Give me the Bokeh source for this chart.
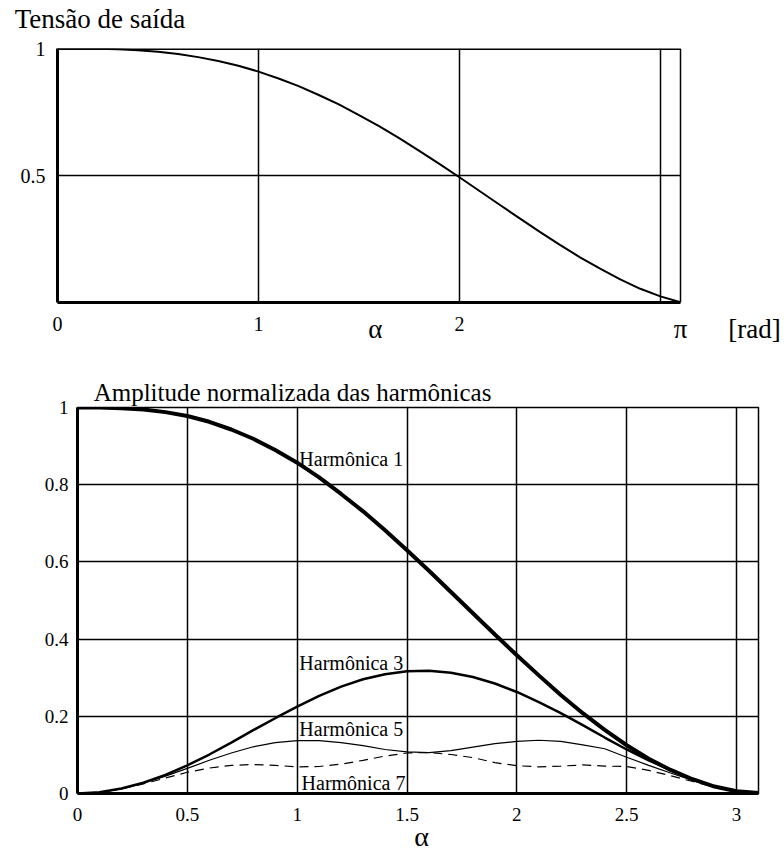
from bokeh.plotting import figure
from bokeh.models import FixedTicker, Label, Range1d, LinearAxis
from bokeh.layouts import column
from bokeh.embed import file_html
from bokeh.resources import INLINE

FONT = "Liberation Serif"

# ---------------- data ----------------
alpha = [0.0, 0.1, 0.2, 0.3, 0.4, 0.5, 0.6, 0.7, 0.8, 0.9,
         1.0, 1.1, 1.2, 1.3, 1.4, 1.5, 1.6, 1.7, 1.8, 1.9,
         2.0, 2.1, 2.2, 2.3, 2.4, 2.5, 2.6, 2.7, 2.8, 2.9,
         3.0, 3.1]

tensao = [1.000, 1.000, 0.999, 0.997, 0.993, 0.987, 0.978, 0.966, 0.951, 0.932,
          0.909, 0.882, 0.852, 0.817, 0.780, 0.738, 0.694, 0.647, 0.597, 0.546,
          0.493, 0.439, 0.385, 0.331, 0.278, 0.227, 0.178, 0.133, 0.091, 0.054,
          0.024, 0.001]

harm1 = [1.000, 1.000, 0.998, 0.995, 0.988, 0.978, 0.963, 0.943, 0.919, 0.890,
         0.857, 0.819, 0.776, 0.731, 0.682, 0.630, 0.577, 0.522, 0.467, 0.412,
         0.358, 0.306, 0.255, 0.208, 0.165, 0.125, 0.090, 0.061, 0.037, 0.018,
         0.006, 0.001]

harm3 = [0.000, 0.003, 0.013, 0.028, 0.048, 0.073, 0.101, 0.132, 0.164, 0.195,
         0.225, 0.253, 0.277, 0.296, 0.309, 0.317, 0.318, 0.313, 0.302, 0.285,
         0.263, 0.237, 0.208, 0.177, 0.145, 0.114, 0.086, 0.061, 0.036, 0.018,
         0.006, 0.001]

harm5 = [0.000, 0.003, 0.012, 0.027, 0.045, 0.065, 0.086, 0.105, 0.121, 0.132,
         0.137, 0.137, 0.132, 0.124, 0.114, 0.108, 0.106, 0.111, 0.120, 0.129,
         0.135, 0.138, 0.135, 0.126, 0.116, 0.094, 0.073, 0.053, 0.034, 0.018,
         0.006, 0.001]

harm7 = [0.000, 0.003, 0.012, 0.025, 0.040, 0.055, 0.066, 0.073, 0.075, 0.073,
         0.069, 0.070, 0.076, 0.086, 0.097, 0.105, 0.106, 0.101, 0.093, 0.080,
         0.072, 0.069, 0.071, 0.074, 0.071, 0.070, 0.060, 0.046, 0.031, 0.017,
         0.006, 0.001]

# top chart ticks / texts
top_xticks = [0, 1, 2]
top_xtick_labels = ["0", "1", "2"]
top_xgrid = [1, 2, 3]
top_yticks = [0.5, 1]
top_ytick_labels = ["0.5", "1"]
top_text_pos = [1.582, 3.1, 3.468]
top_text_labels = ["α", "π", "[rad]"]
top_title_pos = [0.211]
top_title = ["Tensão de saída"]

# bottom chart ticks / texts
bot_xticks = [0, 0.5, 1, 1.5, 2, 2.5, 3]
bot_xtick_labels = ["0", "0.5", "1", "1.5", "2", "2.5", "3"]
bot_yticks = [0, 0.2, 0.4, 0.6, 0.8, 1]
bot_ytick_labels = ["0", "0.2", "0.4", "0.6", "0.8", "1"]
bot_text_pos = [1.566]
bot_text_labels = ["α"]
bot_title_pos = [0.979]
bot_title = ["Amplitude normalizada das harmônicas"]

harm_names = ["Harmônica 1", "Harmônica 3", "Harmônica 5", "Harmônica 7"]
harm_label_x = [1.01, 1.01, 1.01, 1.02]
harm_label_y = [0.866, 0.338, 0.168, 0.026]


def base_axis(ax, ticks, labels, size, standoff, line=True, line_width=3):
    ax.ticker = FixedTicker(ticks=ticks)
    ax.major_label_overrides = {t: s for t, s in zip(ticks, labels)}
    ax.major_label_text_font = FONT
    ax.major_label_text_font_size = size
    ax.major_label_text_color = "black"
    ax.major_label_standoff = standoff
    ax.major_tick_in = 0
    ax.major_tick_out = 0
    ax.major_tick_line_color = None
    ax.minor_tick_line_color = None
    if line:
        ax.axis_line_color = "black"
        ax.axis_line_width = line_width
    else:
        ax.axis_line_color = None


def no_align(p):
    try:
        p.frame_align = False
    except Exception:
        pass


# ---------------- top chart ----------------
p1 = figure(width=782, height=347, output_backend="svg", toolbar_location=None,
            x_range=Range1d(0, 3.6075), y_range=Range1d(0, 1),
            min_border_left=57, min_border_right=0,
            min_border_top=48, min_border_bottom=45)
no_align(p1)
p1.outline_line_color = None
p1.background_fill_color = "white"
p1.border_fill_color = "white"

ax_x1 = p1.xaxis[0]
base_axis(ax_x1, top_xticks, top_xtick_labels, "20px", 14)
ax_x1.bounds = (alpha[0], alpha[-1])
ax_y1 = p1.yaxis[0]
base_axis(ax_y1, top_yticks, top_ytick_labels, "20px", 12)

ax_txt1 = LinearAxis()
base_axis(ax_txt1, top_text_pos, top_text_labels, "27px", -20, line=False)
p1.add_layout(ax_txt1, "below")

ax_title1 = LinearAxis()
base_axis(ax_title1, top_title_pos, top_title, "27px", 15, line=False)
p1.add_layout(ax_title1, "above")

p1.xgrid[0].ticker = FixedTicker(ticks=top_xgrid + [alpha[-1]])
p1.xgrid[0].grid_line_color = "black"
p1.xgrid[0].grid_line_width = 1.5
p1.xgrid[0].grid_line_alpha = 1.0
p1.ygrid[0].visible = False

# horizontal grid lines / top border limited to the data box
p1.segment(x0=[alpha[0]] * len(top_yticks), x1=[alpha[-1]] * len(top_yticks),
           y0=top_yticks, y1=top_yticks, line_color="black",
           line_width=[1.5, 3.0])

p1.line(alpha, tensao, line_color="black", line_width=2)

# ---------------- bottom chart ----------------
p2 = figure(width=782, height=509, output_backend="svg", toolbar_location=None,
            x_range=Range1d(0, 3.1), y_range=Range1d(0, 1),
            min_border_left=77, min_border_right=24,
            min_border_top=60, min_border_bottom=63)
no_align(p2)
p2.outline_line_color = "black"
p2.outline_line_width = 1.5
p2.background_fill_color = "white"
p2.border_fill_color = "white"

ax_x2 = p2.xaxis[0]
base_axis(ax_x2, bot_xticks, bot_xtick_labels, "19px", 14)
ax_y2 = p2.yaxis[0]
base_axis(ax_y2, bot_yticks, bot_ytick_labels, "19px", 9)

ax_txt2 = LinearAxis()
base_axis(ax_txt2, bot_text_pos, bot_text_labels, "28px", -3, line=False)
p2.add_layout(ax_txt2, "below")

ax_title2 = LinearAxis()
base_axis(ax_title2, bot_title_pos, bot_title, "25px", 2, line=False)
p2.add_layout(ax_title2, "above")

for g in (p2.xgrid[0], p2.ygrid[0]):
    g.grid_line_color = "black"
    g.grid_line_width = 1.5
    g.grid_line_alpha = 1.0

p2.line(alpha, harm1, line_color="black", line_width=4)
p2.line(alpha, harm3, line_color="black", line_width=2.5)
p2.line(alpha, harm5, line_color="black", line_width=1.2)
p2.line(alpha, harm7, line_color="black", line_width=1.2, line_dash="9 6")

for name, lx, ly in zip(harm_names, harm_label_x, harm_label_y):
    p2.add_layout(Label(x=lx, y=ly, text=name, text_font=FONT,
                        text_font_size="20px", text_color="black",
                        text_baseline="alphabetic"))

layout = column(p1, p2)
open("out.html", "w").write(file_html(layout, INLINE))
